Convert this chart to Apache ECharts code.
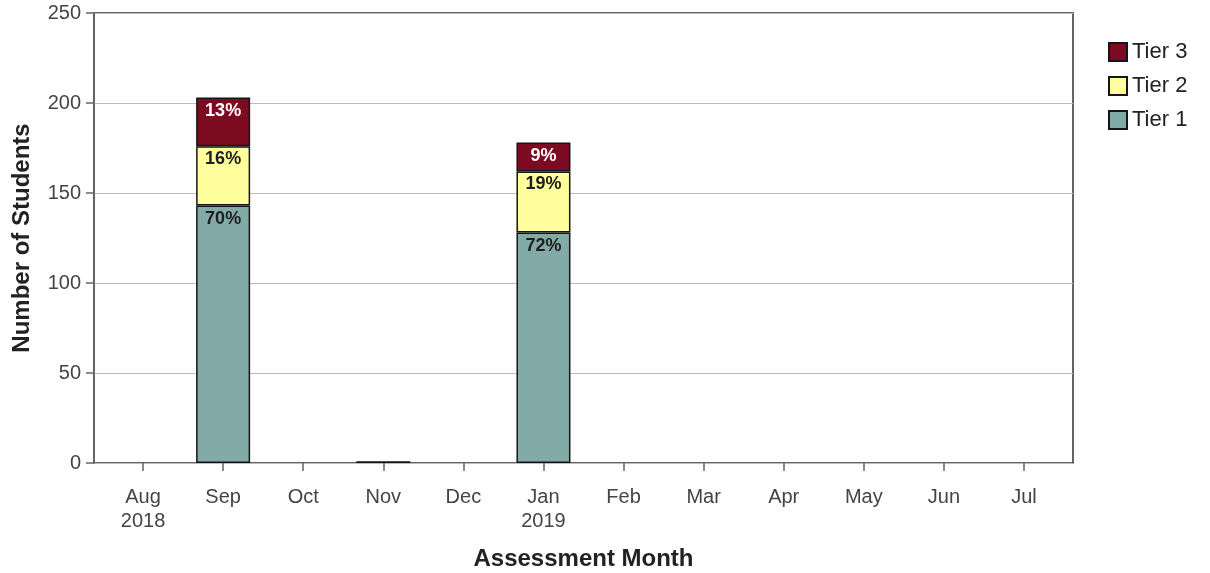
<!DOCTYPE html>
<html><head><meta charset="utf-8">
<script src="https://cdn.jsdelivr.net/npm/echarts@6/dist/echarts.min.js"></script>
<style>html,body{margin:0;padding:0;background:#fff}#c{width:1210px;height:573px}</style>
</head><body><div id="c"></div>
<script>
const months = ['Aug\n2018','Sep','Oct','Nov','Dec','Jan\n2019','Feb','Mar','Apr','May','Jun','Jul'];
const tier1 = [0,143,0,1,0,128,0,0,0,0,0,0];
const tier2 = [0,33,0,0,0,34,0,0,0,0,0,0];
const tier3 = [0,27,0,0,0,16,0,0,0,0,0,0];
const yTicks = {min:0,max:250,interval:50};

const totals = months.map((m,i)=>tier1[i]+tier2[i]+tier3[i]);
function pct(p){
  const v = p.value, t = totals[p.dataIndex];
  if (!v || t < 10) return '';
  return Math.round(v/t*100)+'%';
}
const FONT = '"Liberation Sans", Arial, sans-serif';
function mk(name, data, color, labelColor){
  return {
    name, type:'bar', stack:'s', data: data.map(v => v === 0 ? null : v), xAxisIndex:1, yAxisIndex:1,
    barWidth:54,
    itemStyle:{color, borderColor:'#151515', borderWidth:1.5},
    label:{show:true, position:'insideTop', distance:4, formatter:pct,
      color:labelColor, fontWeight:'bold', fontSize:18, fontFamily:FONT},
    emphasis:{disabled:true}
  };
}
const chart = echarts.init(document.getElementById('c'));
chart.setOption({
  animation:false,
  textStyle:{fontFamily:FONT},
  legend:{
    orient:'vertical', left:1103, top:36, itemWidth:18, itemHeight:18, itemGap:12,
    icon:'rect', data:['Tier 3','Tier 2','Tier 1'],
    textStyle:{fontSize:22, color:'#222', fontFamily:FONT}
  },
  grid:[
    {left:94, top:13, width:979, height:450, show:true, borderColor:'#333', borderWidth:1.5, backgroundColor:'transparent', outerBoundsMode:'none', containLabel:false},
    {left:103, top:13, width:961, height:450, outerBoundsMode:'none', containLabel:false}
  ],
  xAxis:[
    {gridIndex:0, type:'value', min:0, max:1, show:false},
    {gridIndex:1, type:'category', data:months,
     axisLine:{show:false},
     axisTick:{show:true, alignWithLabel:true, length:8, lineStyle:{color:'#666', width:1.5}},
     axisLabel:{interval:0, fontSize:20, color:'#444', margin:22, lineHeight:24, fontFamily:FONT},
     name:'Assessment Month', nameLocation:'middle', nameGap:84,
     nameTextStyle:{fontSize:24, fontWeight:'bold', color:'#222', fontFamily:FONT}}
  ],
  yAxis:[
    {gridIndex:0, type:'value', min:yTicks.min, max:yTicks.max, interval:yTicks.interval,
     axisLine:{show:true, lineStyle:{color:'#666', width:1.5}},
     axisTick:{show:true, length:8, lineStyle:{color:'#666', width:1.5}},
     axisLabel:{fontSize:20, color:'#444', margin:13, fontFamily:FONT},
     splitLine:{show:true, lineStyle:{color:'#bbb', width:1.2}},
     name:'Number of Students', nameLocation:'middle', nameGap:60,
     nameTextStyle:{fontSize:24, fontWeight:'bold', color:'#222', fontFamily:FONT}},
    {gridIndex:1, type:'value', min:yTicks.min, max:yTicks.max, show:false, splitLine:{show:false}}
  ],
  series:[
    mk('Tier 1', tier1, '#82ABA7', '#1e1e1e'),
    mk('Tier 2', tier2, '#FFFF9E', '#1e1e1e'),
    mk('Tier 3', tier3, '#7C0B22', '#ffffff')
  ]
});
</script></body></html>
